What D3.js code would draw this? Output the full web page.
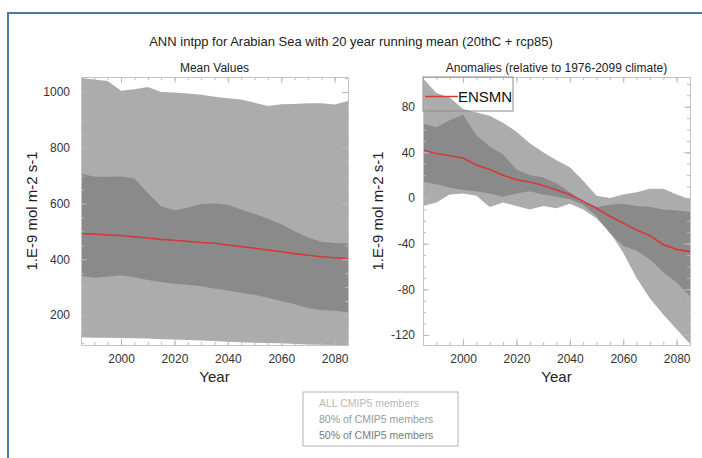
<!DOCTYPE html>
<html>
<head>
<meta charset="utf-8">
<script src="https://cdn.jsdelivr.net/npm/d3@7"></script>
<style>
    body { margin: 0; background: #fff; }
    svg { display: block; font-family: "Liberation Sans", Arial, sans-serif; }
</style>
</head>
<body>
<script>

// ================================================================================================
// Data (20 year running means, 5 year steps)

var years = [1985, 1990, 1995, 2000, 2005, 2010, 2015, 2020, 2025, 2030, 2035,
             2040, 2045, 2050, 2055, 2060, 2065, 2070, 2075, 2080, 2085];

// Mean values
var meanAllHi = [1050, 1045, 1040, 1005, 1010, 1018, 1000, 998, 995, 990, 983,
                 978, 973, 962, 950, 956, 957, 960, 960, 955, 968];
var meanAllLo = [120, 118, 118, 117, 116, 115, 113, 112, 110, 108, 106,
                 104, 102, 100, 99, 98, 96, 94, 93, 92, 92];
var mean80Hi = [708, 696, 696, 697, 690, 638, 590, 576, 585, 598, 600,
                595, 578, 562, 545, 525, 500, 478, 463, 458, 456];
var mean80Lo = [340, 333, 338, 342, 335, 325, 318, 312, 308, 303, 295,
                288, 280, 272, 262, 250, 238, 225, 218, 215, 210];
var meanEns = [492, 490, 487, 485, 480, 476, 471, 468, 464, 460, 457,
               451, 445, 439, 433, 427, 420, 414, 409, 405, 402];

// Anomalies
var anomAllHi = [105, 92, 88, 78, 75, 72, 66, 58, 48, 40, 33,
                 27, 15, 2, 0, 3, 5, 8, 8, 3, -1];
var anomAllLo = [-7, -4, 3, 4, 2, -8, -4, -7, -10, -7, -9,
                 -5, -10, -18, -30, -48, -70, -88, -102, -115, -128];
var anom80Hi = [65, 62, 68, 73, 55, 45, 38, 25, 20, 18, 13,
                5, -3, -8, -6, -5, -7, -8, -10, -11, -12];
var anom80Lo = [14, 12, 9, 7, 6, 4, 1, 4, 6, 3, 1,
                -1, -6, -16, -31, -42, -46, -54, -65, -74, -86];
var anomEns = [42, 39, 37, 35, 29, 25, 20, 16, 14, 11, 7,
               3, -3, -9, -16, -22, -28, -33, -41, -45, -47];

var legendLabels = ['ALL CMIP5 members', '80% of CMIP5 members', '50% of CMIP5 members'];

// ================================================================================================
// Drawing

var W = 702, H = 458;
var svg = d3.select('body').append('svg').attr('width', W).attr('height', H);

// Outer blue frame (only top and left are in view)
svg.append('path')
    .attr('d', 'M8,' + H + 'V13H' + W)
    .attr('fill', 'none')
    .attr('stroke', '#4a78b0')
    .attr('stroke-width', 2);

svg.append('text')
    .attr('x', 351).attr('y', 46)
    .attr('text-anchor', 'middle')
    .attr('font-size', 13)
    .attr('fill', '#222')
    .text('ANN intpp for Arabian Sea with 20 year running mean (20thC + rcp85)');

// Plain integer labels with an ascii minus, as in the original
function plain(d) { return String(d); }

// Draws one panel
function panel(opt) {
    var x = d3.scaleLinear().domain([1985, 2085]).range([opt.x0, opt.x1]);
    var y = d3.scaleLinear().domain(opt.yDomain).range([345, 77]);
    var g = svg.append('g');
    var clip = 'clip' + opt.id;

    g.append('clipPath').attr('id', clip)
        .append('rect')
        .attr('x', opt.x0).attr('y', 77)
        .attr('width', opt.x1 - opt.x0).attr('height', 268);

    var plot = g.append('g').attr('clip-path', 'url(#' + clip + ')');

    function band(lo, hi, color) {
        var area = d3.area()
            .x(function (d, i) { return x(years[i]); })
            .y0(function (d, i) { return y(lo[i]); })
            .y1(function (d, i) { return y(hi[i]); });
        plot.append('path')
            .attr('d', area(years))
            .attr('fill', color);
    }
    band(opt.allLo, opt.allHi, '#acacac');
    band(opt.p80Lo, opt.p80Hi, '#8a8a8a');

    var line = d3.line()
        .x(function (d, i) { return x(years[i]); })
        .y(function (d) { return y(d); });
    plot.append('path')
        .attr('d', line(opt.ens))
        .attr('fill', 'none')
        .attr('stroke', '#d23a3a')
        .attr('stroke-width', 1.6);

    // Ticks point inwards on all four sides
    var xMajor = d3.range(2000, 2081, 20);
    var xMinor = d3.range(1985, 2086, 5);
    var yMajor = d3.range(opt.yTicks[0], opt.yTicks[1] + 1, opt.yTicks[2]);
    var yMinor = d3.range(Math.ceil(opt.yDomain[0] / opt.yMinor) * opt.yMinor, opt.yDomain[1], opt.yMinor);

    function axis(gen, scale, vals, size, at, pad) {
        var a = gen(scale).tickValues(vals).tickSizeInner(size).tickSizeOuter(0)
            .tickPadding(pad || 0).tickFormat(pad ? plain : '');
        var ag = g.append('g').attr('transform', at).call(a);
        ag.select('.domain').attr('stroke', '#c4c4c4');
        ag.selectAll('.tick line').attr('stroke', '#b8b8b8');
        ag.selectAll('text').attr('fill', '#333').attr('font-size', 12).attr('font-family', null);
        return ag;
    }
    axis(d3.axisBottom, x, xMinor, -3, 'translate(0,345)');
    axis(d3.axisBottom, x, xMajor, -6, 'translate(0,345)', 9);
    axis(d3.axisTop, x, xMinor, -3, 'translate(0,77)');
    axis(d3.axisTop, x, xMajor, -6, 'translate(0,77)');
    axis(d3.axisLeft, y, yMinor, -3, 'translate(' + opt.x0 + ',0)');
    axis(d3.axisLeft, y, yMajor, -6, 'translate(' + opt.x0 + ',0)', opt.yPad);
    axis(d3.axisRight, y, yMinor, -3, 'translate(' + opt.x1 + ',0)');
    axis(d3.axisRight, y, yMajor, -6, 'translate(' + opt.x1 + ',0)');

    var cx = (opt.x0 + opt.x1) / 2;
    g.append('text')
        .attr('x', cx).attr('y', 72)
        .attr('text-anchor', 'middle')
        .attr('font-size', 12)
        .attr('fill', '#222')
        .text(opt.title);

    g.append('text')
        .attr('x', cx).attr('y', 382)
        .attr('text-anchor', 'middle')
        .attr('font-size', 15)
        .attr('fill', '#222')
        .text('Year');

    g.append('text')
        .attr('transform', 'translate(' + opt.labelX + ',211) rotate(-90)')
        .attr('text-anchor', 'middle')
        .attr('font-size', 15)
        .attr('fill', '#222')
        .text('1.E-9 mol m-2 s-1');

    return { x: x, y: y, g: g };
}

panel({
    id: 'mean', x0: 81, x1: 348, yDomain: [92, 1054], yTicks: [200, 1000, 200], yMinor: 50,
    yPad: 11, labelX: 37,
    allLo: meanAllLo, allHi: meanAllHi, p80Lo: mean80Lo, p80Hi: mean80Hi, ens: meanEns,
    title: 'Mean Values'
});

var right = panel({
    id: 'anom', x0: 423, x1: 690, yDomain: [-128.8, 106], yTicks: [-120, 80, 40], yMinor: 10,
    yPad: 8, labelX: 383,
    allLo: anomAllLo, allHi: anomAllHi, p80Lo: anom80Lo, p80Hi: anom80Hi, ens: anomEns,
    title: 'Anomalies (relative to 1976-2099 climate)'
});

// ENSMN legend inside the anomaly panel
right.g.append('rect')
    .attr('x', 423).attr('y', 77)
    .attr('width', 90).attr('height', 34)
    .attr('fill', 'none')
    .attr('stroke', '#8c8c8c');
right.g.append('line')
    .attr('x1', 425).attr('x2', 458)
    .attr('y1', 96.5).attr('y2', 96.5)
    .attr('stroke', '#d23a3a')
    .attr('stroke-width', 1.6);
right.g.append('text')
    .attr('x', 458).attr('y', 102)
    .attr('font-size', 15)
    .attr('fill', '#111')
    .text('ENSMN');

// Band legend below the panels
var lg = svg.append('g');
lg.append('rect')
    .attr('x', 303).attr('y', 392)
    .attr('width', 155).attr('height', 54)
    .attr('fill', 'none')
    .attr('stroke', '#b4b4b4');
var legendColors = ['#b8b8b8', '#9a9a9a', '#7c7c7c'];
lg.selectAll('text.lab')
    .data(legendLabels)
    .enter()
    .append('text')
    .attr('class', 'lab')
    .attr('x', 319)
    .attr('y', function (d, i) { return 407 + i * 16; })
    .attr('font-size', 10.5)
    .attr('fill', function (d, i) { return legendColors[i]; })
    .text(function (d) { return d; });

</script>
</body>
</html>
